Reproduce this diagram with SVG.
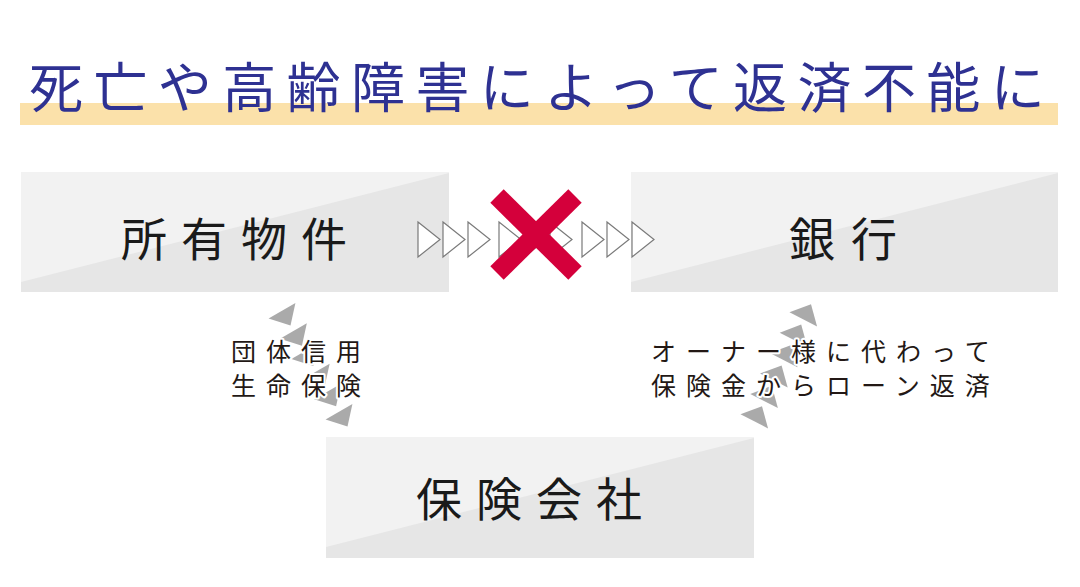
<svg xmlns="http://www.w3.org/2000/svg" xmlns:xlink="http://www.w3.org/1999/xlink" width="1080" height="587" viewBox="0 0 1080 587">
<style>
.box-dark{fill:#e6e6e6}
.box-light{fill:#f2f2f2}
.node-label{font-family:"Noto Sans CJK JP","Noto Sans CJK SC",sans-serif;font-size:46px;fill:#1a1a1a;letter-spacing:14px}
.small-label{font-family:"Noto Sans CJK JP","Noto Sans CJK SC",sans-serif;font-size:25px;fill:#231815;letter-spacing:10px;stroke:#fff;stroke-width:4px;paint-order:stroke;stroke-linejoin:round}
.title{font-family:"Noto Sans CJK JP","Noto Sans CJK SC",sans-serif;font-size:54px;fill:#2e3192;letter-spacing:10.4px}
.open-tri{fill:#fff;stroke:#7a7a7a;stroke-width:1.2}
.gray-tri{fill:#aaaaaa}
</style>
<defs>
<polygon id="otri" class="open-tri" points="0,0 22,17.5 0,35"/>
<polygon id="gtri" class="gray-tri" points="11,0 -6,15.5 -6,-15.5"/>
</defs>
<rect width="1080" height="587" fill="#fff"/>
<g id="title">
<rect x="20" y="103" width="1038" height="22" fill="#fbe1aa"/>
<text class="title" x="29" y="108">死亡や高齢障害によって返済不能に</text>
</g>
<g id="node-property">
<rect class="box-dark" x="21" y="172" width="428" height="120"/>
<polygon class="box-light" points="21,172 449,172 449,173 21,282"/>
<text class="node-label" x="121" y="256">所有物件</text>
</g>
<g id="node-bank">
<rect class="box-dark" x="631" y="172" width="427" height="120"/>
<polygon class="box-light" points="631,172 1058,172 1058,173 631,282"/>
<text class="node-label" x="789" y="256" style="letter-spacing:16px">銀行</text>
</g>
<g id="node-insurer">
<rect class="box-dark" x="326" y="437" width="428" height="121"/>
<polygon class="box-light" points="326,437 754,437 754,438 326,547"/>
<text class="node-label" x="416" y="516">保険会社</text>
</g>
<g id="connectors">
<g id="blocked-flow">
<use xlink:href="#otri" x="418" y="222"/>
<use xlink:href="#otri" x="443" y="222"/>
<use xlink:href="#otri" x="468" y="222"/>
<use xlink:href="#otri" x="499" y="222"/>
<use xlink:href="#otri" x="524" y="222"/>
<use xlink:href="#otri" x="550" y="222"/>
<use xlink:href="#otri" x="582" y="222"/>
<use xlink:href="#otri" x="607" y="222"/>
<use xlink:href="#otri" x="632" y="222"/>
<g stroke="#d4003b" stroke-width="19" stroke-linecap="butt">
<line x1="497" y1="196" x2="575" y2="273"/>
<line x1="575" y1="196" x2="497" y2="273"/>
</g>
</g>
<g id="flow-property-insurer">
<use xlink:href="#gtri" transform="translate(285,316) rotate(60)"/>
<use xlink:href="#gtri" transform="translate(296.4,336.2) rotate(60)"/>
<use xlink:href="#gtri" transform="translate(307.8,356.4) rotate(60)"/>
<use xlink:href="#gtri" transform="translate(319.2,376.6) rotate(60)"/>
<use xlink:href="#gtri" transform="translate(330.6,396.8) rotate(60)"/>
<use xlink:href="#gtri" transform="translate(342,417) rotate(60)"/>
</g>
<g id="flow-insurer-bank">
<use xlink:href="#gtri" transform="translate(806,314) rotate(-63)"/>
<use xlink:href="#gtri" transform="translate(796.2,334.4) rotate(-63)"/>
<use xlink:href="#gtri" transform="translate(786.4,354.8) rotate(-63)"/>
<use xlink:href="#gtri" transform="translate(776.6,375.2) rotate(-63)"/>
<use xlink:href="#gtri" transform="translate(766.8,395.6) rotate(-63)"/>
<use xlink:href="#gtri" transform="translate(757,416) rotate(-63)"/>
</g>
<text class="small-label" x="231" y="361">団体信用</text>
<text class="small-label" x="231" y="395">生命保険</text>
<text class="small-label" x="651" y="361">オーナー様に代わって</text>
<text class="small-label" x="651" y="395">保険金からローン返済</text>
</g>
</svg>
